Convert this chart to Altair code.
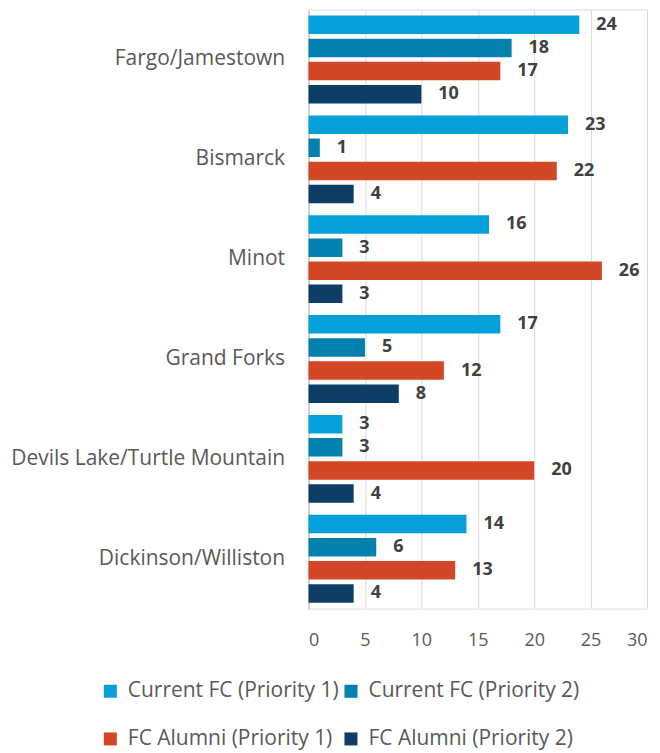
import altair as alt
import pandas as pd

cities = ["Fargo/Jamestown", "Bismarck", "Minot", "Grand Forks",
          "Devils Lake/Turtle Mountain", "Dickinson/Williston"]
series = ["Current FC (Priority 1)", "Current FC (Priority 2)",
          "FC Alumni (Priority 1)", "FC Alumni (Priority 2)"]
colors = ["#05A0DA", "#0280AE", "#D34726", "#0E3D65"]
current_p1 = [24, 23, 16, 17, 3, 14]
current_p2 = [18, 1, 3, 5, 3, 6]
alumni_p1 = [17, 22, 26, 12, 20, 13]
alumni_p2 = [10, 4, 3, 8, 4, 4]
x_ticks = [0, 5, 10, 15, 20, 25, 30]

rows = []
for i, c in enumerate(cities):
    for s, vals in zip(series, [current_p1, current_p2, alumni_p1, alumni_p2]):
        rows.append({"city": c, "series": s, "value": vals[i]})
df = pd.DataFrame(rows)

FONT = "Open Sans"

base = alt.Chart(df).encode(
    y=alt.Y("city:N", sort=cities,
            scale=alt.Scale(paddingInner=0.12, paddingOuter=0.06),
            axis=alt.Axis(title=None, ticks=False, domainColor="#BFBFBF",
                          labelFontSize=21, labelColor="#595959", labelFont=FONT,
                          labelPadding=24, labelLimit=400)),
    yOffset=alt.YOffset("series:N", sort=series,
                        scale=alt.Scale(paddingInner=0.2, paddingOuter=0)),
)

bars = base.mark_bar().encode(
    x=alt.X("value:Q", scale=alt.Scale(domain=[0, 30]),
            axis=alt.Axis(values=x_ticks, title=None, ticks=False, domain=False,
                          gridColor="#D9D9D9", labelFontSize=18,
                          labelColor="#595959", labelFont=FONT, labelPadding=23)),
    color=alt.Color("series:N", sort=series,
                    scale=alt.Scale(domain=series, range=colors),
                    legend=alt.Legend(title=None, orient="none", columns=2,
                                      direction="horizontal",
                                      legendX=-209, legendY=672,
                                      symbolType="square", symbolSize=170,
                                      symbolStrokeWidth=0, labelOffset=7,
                                      labelFontSize=21, labelColor="#595959",
                                      labelFont=FONT, rowPadding=26,
                                      columnPadding=1, labelLimit=400)),
)

labels = base.mark_text(align="left", dx=17, fontWeight="bold", fontSize=18,
                        color="#404040", font=FONT).encode(
    x=alt.X("value:Q"),
    text=alt.Text("value:Q"),
)

chart = (bars + labels).properties(
    width=339, height=600,
    padding={"left": 2, "top": 1, "right": 5, "bottom": 5},
).configure_view(stroke=None).configure(background="white")

chart.save("out.html", embed_options={"renderer": "svg", "actions": False})
